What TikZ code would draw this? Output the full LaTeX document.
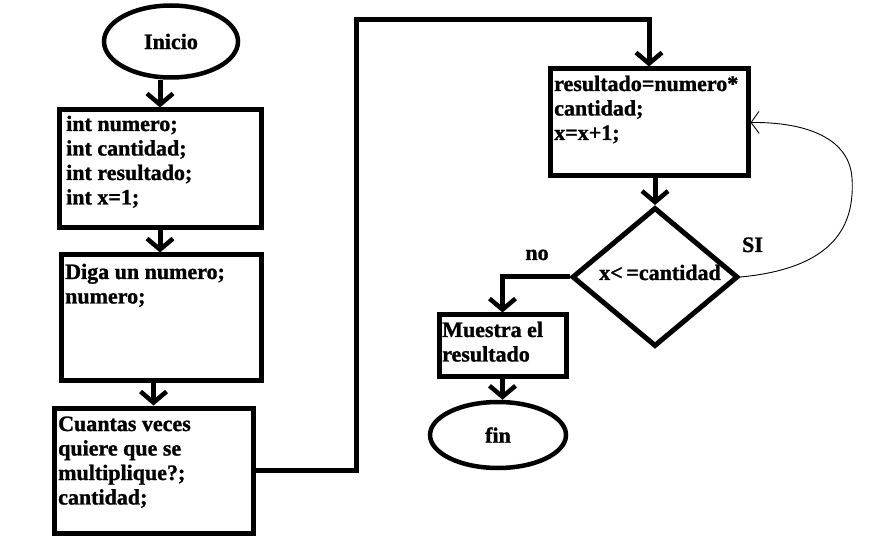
\documentclass[tikz,border=0pt]{standalone}
\usepackage{fontspec}
\setmainfont{Liberation Serif}[BoldFeatures={FakeBold=1.2}]
\usetikzlibrary{shapes.geometric,arrows.meta}
\newcommand{\mlines}[1]{\begin{tabular}[t]{@{}l@{}}#1\end{tabular}}
\begin{document}
\begin{tikzpicture}[x=1pt,y=-1pt,
  every node/.style={font=\bfseries\fontsize{22}{24.5}\selectfont},
  box/.style={draw,line width=5pt,rectangle,inner sep=0pt},
  ell/.style={draw,line width=4.5pt,ellipse,inner sep=0pt},
  dia/.style={draw,line width=5pt,diamond,inner sep=0pt},
  txt/.style={inner sep=0pt,anchor=base west},
  lbl/.style={inner sep=0pt,anchor=base},
  conn/.style={line width=5pt},
  arr/.style={conn,-{Straight Barb[length=11pt,width=26pt,line width=4.5pt]}},
  thinarr/.style={line width=0.9pt,-{Straight Barb[length=8pt,width=22pt,line width=0.9pt]}},
]
\useasboundingbox[fill=white] (0,0) rectangle (895,540);

% nodes
\node[ell,minimum width=134pt,minimum height=72pt] (ini) at (171,41.5) {Inicio};
\node[box,minimum width=202pt,minimum height=118pt] (b1) at (160,169) {};
\node[txt] at (66,131) {\mlines{int numero;\\int cantidad;\\int resultado;\\int x=1;}};
\node[box,minimum width=200pt,minimum height=125pt] (b2) at (161,317.5) {};
\node[txt] at (65,279) {\mlines{Diga un numero;\\numero;}};
\node[box,minimum width=199pt,minimum height=125pt] (b3) at (153.5,470.5) {};
\node[txt] at (58,431) {\mlines{Cuantas veces\\quiere que se\\multiplique?;\\cantidad;}};
\node[box,minimum width=198pt,minimum height=107pt] (b4) at (649,122.5) {};
\node[txt] at (554,91) {\mlines{resultado=numero*\\cantidad;\\x=x+1;}};
\node[dia,minimum width=166pt,minimum height=139pt] (d) at (655,277) {};
\node[lbl] at (660,280) {x<\,=cantidad};
\node[box,minimum width=127pt,minimum height=61pt] (b5) at (502.5,345.5) {};
\node[txt] at (442,337) {\mlines{Muestra el\\resultado}};
\node[ell,minimum width=136pt,minimum height=66pt] (fin) at (498,435) {fin};
\node[lbl] at (537,260) {no};
\node[lbl] at (752.5,252) {SI};
\coordinate (c1) at (356,20);

% connectors
\draw[arr] (b1.north |- ini.south) -- (b1.north);
\draw[arr] (b1.south) -- (b1.south |- b2.north);
\draw[arr] (b3.north |- b2.south) -- (b3.north);
\draw[arr] (b3.east) -| (c1) -| (b4.north);
\draw[arr] (d.north |- b4.south) -- (d.north);
\draw[arr] (d.west) -| (b5.north);
\draw[arr] (b5.south) -- (b5.south |- fin.north);
\draw[thinarr] (d.east) .. controls (835,268) and (855,225) .. (852,178)
  .. controls (849,135) and (800,122) .. (b4.east);
\end{tikzpicture}
\end{document}
